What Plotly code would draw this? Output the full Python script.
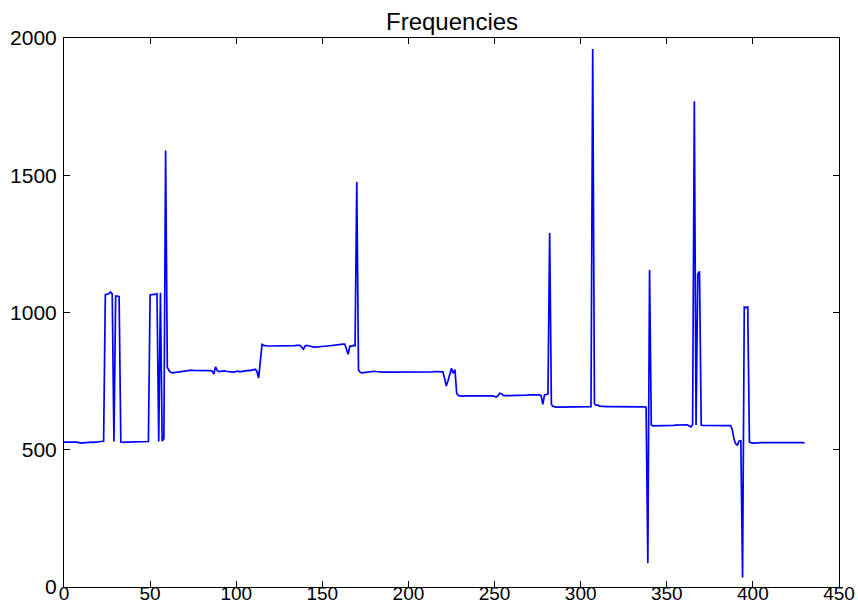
import plotly.graph_objects as go

# Frequency samples, split into segments (index order)
seg_start = [528, 528, 528, 529, 530, 530, 529, 528, 527, 525, 524, 525, 526, 527, 528, 528, 528,
             527, 527, 528, 529, 530, 530, 531]                                   # 0-23
seg_blocks1 = [1065, 1068, 1068, 1075, 1068, 530, 1060, 1060, 1058, 528]          # 24-33
seg_low1 = [527, 527, 528, 528, 528, 528, 528, 528, 528, 528, 528, 529, 529, 529, 530, 530]  # 34-49
seg_blocks2 = [1064, 1066, 1066, 1066, 1068, 530, 1072, 532, 540, 1590]           # 50-59
seg_780 = [800, 788, 782, 780, 781, 783, 784, 785, 786, 786, 787, 788, 789, 790, 790, 789,
           789, 789, 790, 790, 789, 789, 789, 790, 789, 788, 787, 776, 802, 788, 785, 786,
           787, 787, 786, 785, 784, 783, 783, 784, 786, 786, 784, 785, 787, 789, 790, 789,
           788, 789, 790, 793, 786, 761]                                          # 60-113
seg_880 = [822, 884, 880, 878, 878, 878, 878, 877, 878, 878, 878, 878, 878, 878, 878, 878,
           878, 878, 878, 879, 879, 880, 880, 880, 874, 866, 878, 880, 879, 877, 876, 874,
           874, 875, 876, 876, 876, 877, 877, 878, 878, 878, 879, 880, 881, 882, 883, 884,
           885, 885, 870, 848, 878, 877, 880, 879, 1475]                          # 114-170
seg_783 = [790, 782, 780, 781, 782, 783, 784, 785, 785, 786, 785, 784, 784, 783, 783, 783,
           783, 782, 782, 782, 782, 782, 782, 782, 783, 783, 783, 783, 783, 783, 783, 783,
           783, 783, 784, 784, 784, 784, 784, 784, 784, 784, 784, 784, 785, 785, 785, 785,
           785, 784, 760, 732, 752, 775, 797, 778, 792, 706, 698]                 # 171-229
seg_697 = [696, 695, 695, 696, 696, 697, 697, 697, 697, 696, 696, 697, 697, 697, 697, 697,
           696, 696, 696, 696, 694, 692, 697, 706, 704, 698, 697, 697, 697, 697, 698, 698,
           698, 698, 698, 699, 699, 699, 699, 699, 700, 700, 700, 700, 700, 701, 700, 697,
           665, 700, 701, 703, 1290, 665, 658]                                    # 230-284
seg_657 = [656, 655, 655, 655, 656, 656, 656, 656, 656, 656, 656, 655, 655, 655, 656, 656,
           656, 656, 656, 656, 657, 657, 1960, 668, 662, 663, 659, 658, 657, 657, 657, 657,
           657, 657, 656, 656, 656, 656, 657, 657, 657, 657, 656, 656, 656, 657, 657, 657,
           658, 658, 657, 656, 656, 655, 87, 1155]                                # 285-340
seg_590 = [590, 587, 587, 588, 588, 588, 588, 588, 588, 588, 589, 589, 589, 589, 590, 590,
           591, 591, 592, 592, 592, 591, 586, 583, 592, 1770, 590, 1140, 1150, 590, 589, 589,
           589, 589, 589, 590, 590, 590, 590, 590, 590, 590, 590, 589, 589, 588, 588, 575,
           540, 522, 517, 532, 533, 35, 1020, 1018, 1020]                         # 341-397
seg_end = [527, 524, 524, 524, 525, 525, 526, 526, 526, 526, 526, 526, 527, 527, 527, 528,
           528, 527, 527, 527, 527, 527, 527, 526, 526, 526, 527, 527, 527, 526, 526, 526,
           525]                                                                    # 398-430

frequencies = (seg_start + seg_blocks1 + seg_low1 + seg_blocks2 + seg_780 + seg_880 +
               seg_783 + seg_697 + seg_657 + seg_590 + seg_end)
samples = list(range(len(frequencies)))

x_ticks = [0, 50, 100, 150, 200, 250, 300, 350, 400, 450]
y_ticks = [0, 500, 1000, 1500, 2000]
title_text = "Frequencies"

font_family = "Liberation Sans, Arial, Helvetica, sans-serif"

fig = go.Figure(
    go.Scatter(x=samples, y=frequencies, mode="lines",
               line=dict(color="#0000ff", width=1.7), hoverinfo="skip")
)

axis_common = dict(
    showgrid=False, zeroline=False, showline=True, linecolor="black", linewidth=1,
    mirror="allticks", ticks="inside", ticklen=6, tickwidth=1, tickcolor="black",
    automargin=False,
)

fig.update_xaxes(range=[0, 450], tickmode="array", tickvals=x_ticks,
                 ticktext=[str(v) for v in x_ticks], ticklabelstandoff=-11,
                 tickfont=dict(family=font_family, size=19, color="black"), **axis_common)
fig.update_yaxes(range=[0, 2000], tickmode="array", tickvals=y_ticks,
                 ticktext=[str(v) for v in y_ticks], ticklabelstandoff=2,
                 tickfont=dict(family=font_family, size=21, color="black"), **axis_common)

fig.add_annotation(text=title_text, xref="paper", yref="paper", x=0.5, y=1,
                   xanchor="center", yanchor="bottom", yshift=1, showarrow=False,
                   font=dict(family=font_family, size=24, color="black"))

fig.update_layout(
    width=858, height=607,
    margin=dict(l=64, r=19, t=38, b=20),
    paper_bgcolor="white", plot_bgcolor="white",
    showlegend=False,
)

fig.write_html("out.html")
